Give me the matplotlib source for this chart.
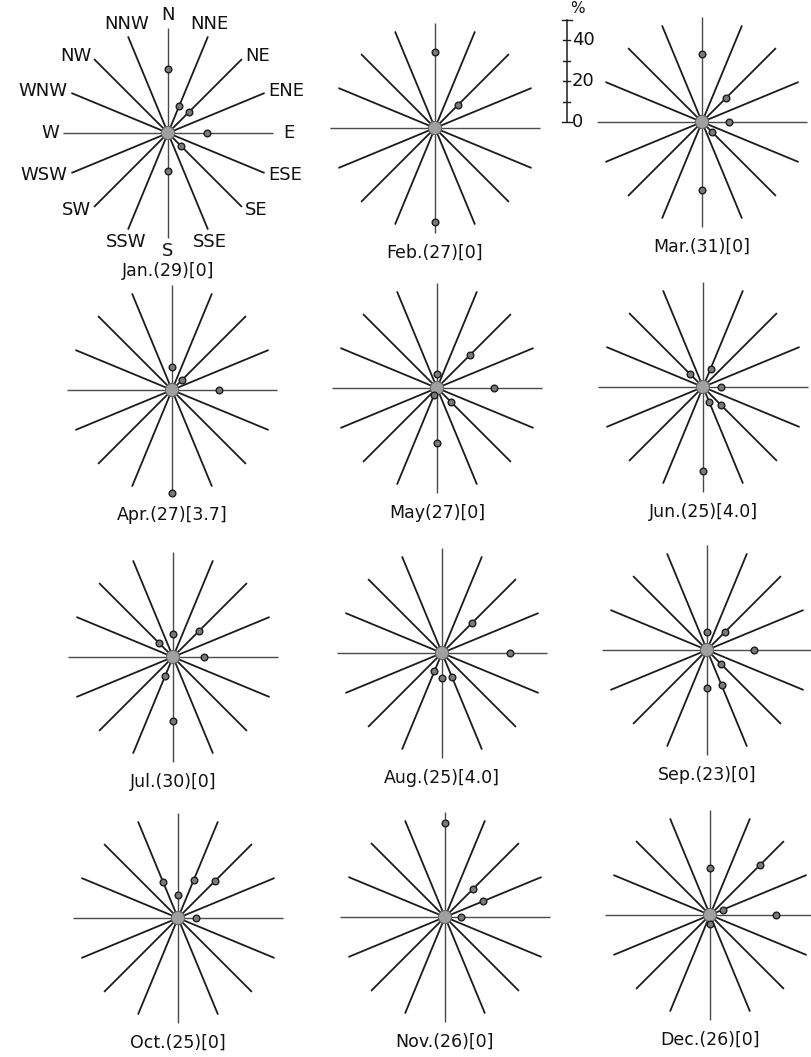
import numpy as np
import matplotlib
matplotlib.use("Agg")
import matplotlib.pyplot as plt
from matplotlib.patches import Circle

nan = np.nan

DIRECTIONS = ["N", "NNE", "NE", "ENE", "E", "ESE", "SE", "SSE",
              "S", "SSW", "SW", "WSW", "W", "WNW", "NW", "NNW"]
MONTHS = ["Jan.", "Feb.", "Mar.", "Apr.", "May", "Jun.",
          "Jul.", "Aug.", "Sep.", "Oct.", "Nov.", "Dec."]
DAYS = [29, 27, 31, 27, 27, 25, 30, 25, 23, 25, 26, 26]
CALM = ["0", "0", "0", "3.7", "0", "4.0", "0", "4.0", "0", "0", "0", "0"]

# frequency (%) per direction, order as DIRECTIONS; nan = no dot
#          N     NNE   NE    ENE  E     ESE  SE   SSE   S     SSW  SW   WSW  W    WNW  NW   NNW
FREQ_JAN = [31,  14,   14.5, nan, 19,   nan, 9,   nan,  18.5, nan, nan, nan, nan, nan, nan, nan]
FREQ_FEB = [37,  nan,  16,   nan, nan,  nan, nan, nan,  46,   nan, nan, nan, nan, nan, nan, nan]
FREQ_MAR = [33,  nan,  16.5, nan, 13,   nan, 7,   nan,  33,   nan, nan, nan, nan, nan, nan, nan]
FREQ_APR = [11,  nan,  7,    nan, 23,   nan, nan, nan,  50,   nan, nan, nan, nan, nan, nan, nan]
FREQ_MAY = [7,   nan,  23,   nan, 28,   nan, 10,  nan,  27,   3.5, nan, nan, nan, nan, nan, nan]
FREQ_JUN = [nan, 9.6,  nan,  nan, 9,    nan, 12.5, 8,   41,   nan, nan, nan, nan, nan, 9,   nan]
FREQ_JUL = [11,  nan,  18,   nan, 15,   nan, nan, nan,  31,   10,  nan, nan, nan, nan, 10,  nan]
FREQ_AUG = [nan, nan,  21,   nan, 33,   nan, nan, 12.7, 12,   9.6, nan, nan, nan, nan, nan, nan]
FREQ_SEP = [9,   nan,  12.7, nan, 23,   nan, 10,  18.6, 18.5, nan, nan, nan, nan, nan, nan, nan]
FREQ_OCT = [11,  20,   25.6, nan, 9,    nan, nan, nan,  nan,  nan, nan, nan, nan, nan, nan, 19]
FREQ_NOV = [46,  nan,  19,   20,  8,    nan, nan, nan,  nan,  nan, nan, nan, nan, nan, nan, nan]
FREQ_DEC = [23,  nan,  34.5, 7,   32,   nan, nan, nan,  4.5,  nan, nan, nan, nan, nan, nan, nan]

FREQS = [FREQ_JAN, FREQ_FEB, FREQ_MAR, FREQ_APR, FREQ_MAY, FREQ_JUN,
         FREQ_JUL, FREQ_AUG, FREQ_SEP, FREQ_OCT, FREQ_NOV, FREQ_DEC]

SCALE_TICKS = [0, 10, 20, 30, 40, 50]
SCALE_LABELS = {0: "0", 20: "20", 40: "40"}

# layout (pixels)
W_PX, H_PX = 811, 1057
PX_PER_PCT = 2.05
HALF = 62  # axes half-width in %
CENTERS = [(168, 133), (435, 128), (702, 122),
           (172, 390), (437, 388), (703, 387),
           (173, 657), (442, 653), (707, 650),
           (178, 918), (445, 917), (710, 915)]
SPOKE = 51
INK = "#1c1c1c"
FONT = "DejaVu Sans"


def add_panel(fig, cx, cy):
    half_px = HALF * PX_PER_PCT
    ax = fig.add_axes([(cx - half_px) / W_PX, 1 - (cy + half_px) / H_PX,
                       2 * half_px / W_PX, 2 * half_px / H_PX])
    ax.set_xlim(-HALF, HALF)
    ax.set_ylim(-HALF, HALF)
    ax.axis("off")
    return ax


def draw_rose(ax, freq, label, label_y):
    theta = np.deg2rad(np.arange(16) * 22.5)
    for i, t in enumerate(theta):
        cardinal = i % 4 == 0
        ax.plot([0, SPOKE * np.sin(t)], [0, SPOKE * np.cos(t)],
                color="#4a4a4a" if cardinal else INK,
                lw=1.0 if cardinal else 1.3, solid_capstyle="butt", zorder=2)
    ax.add_patch(Circle((0, 0), 3.2, fc="#a0a0a0", ec="#6a6a6a", lw=0.8, zorder=3))
    v = np.asarray(freq, dtype=float)
    ok = ~np.isnan(v)
    ax.plot(v[ok] * np.sin(theta[ok]), v[ok] * np.cos(theta[ok]), "o",
            ms=4.8, mfc="#7a7a7a", mec=INK, mew=1.0, zorder=4)
    ax.text(0, label_y, label, ha="center", va="center", fontsize=12.5,
            family=FONT, color="#111111")


def draw_direction_labels(ax):
    for i, name in enumerate(DIRECTIONS):
        t = np.deg2rad(i * 22.5)
        s, c = np.sin(t), np.cos(t)
        ha = "center" if abs(s) < 0.45 else ("left" if s > 0 else "right")
        va = "center" if abs(c) < 0.8 else ("bottom" if c > 0 else "top")
        r = SPOKE + (5 if name == "E" else 2)
        ax.text(r * s, r * c, name, ha=ha, va=va, fontsize=13,
                family=FONT, color="#111111")


def draw_scale(ax):
    x = -66
    ax.plot([x, x], [SCALE_TICKS[0], SCALE_TICKS[-1]], color=INK, lw=1.1,
            clip_on=False)
    for tk in SCALE_TICKS:
        w = 2.4 if tk in (SCALE_TICKS[0], SCALE_TICKS[-1]) else 1.6
        ax.plot([x - w, x + w], [tk, tk], color=INK, lw=1.0, clip_on=False)
        if tk in SCALE_LABELS:
            ax.text(x + 2.5, tk, SCALE_LABELS[tk], ha="left", va="center",
                    fontsize=13, family=FONT, color="#111111")
    ax.text(x + 1.5, SCALE_TICKS[-1] + 1.5, "%", ha="left", va="bottom",
            fontsize=11, family=FONT, color="#111111")


fig = plt.figure(figsize=(W_PX / 100, H_PX / 100), dpi=100)
fig.patch.set_facecolor("white")

for k, (cx, cy) in enumerate(CENTERS):
    ax = add_panel(fig, cx, cy)
    label = f"{MONTHS[k]}({DAYS[k]})[{CALM[k]}]"
    draw_rose(ax, FREQS[k], label, -67.5 if k == 0 else -61)
    if k == 0:
        draw_direction_labels(ax)
    if k == 2:
        draw_scale(ax)

fig.savefig("out.png", dpi=100, facecolor="white")
